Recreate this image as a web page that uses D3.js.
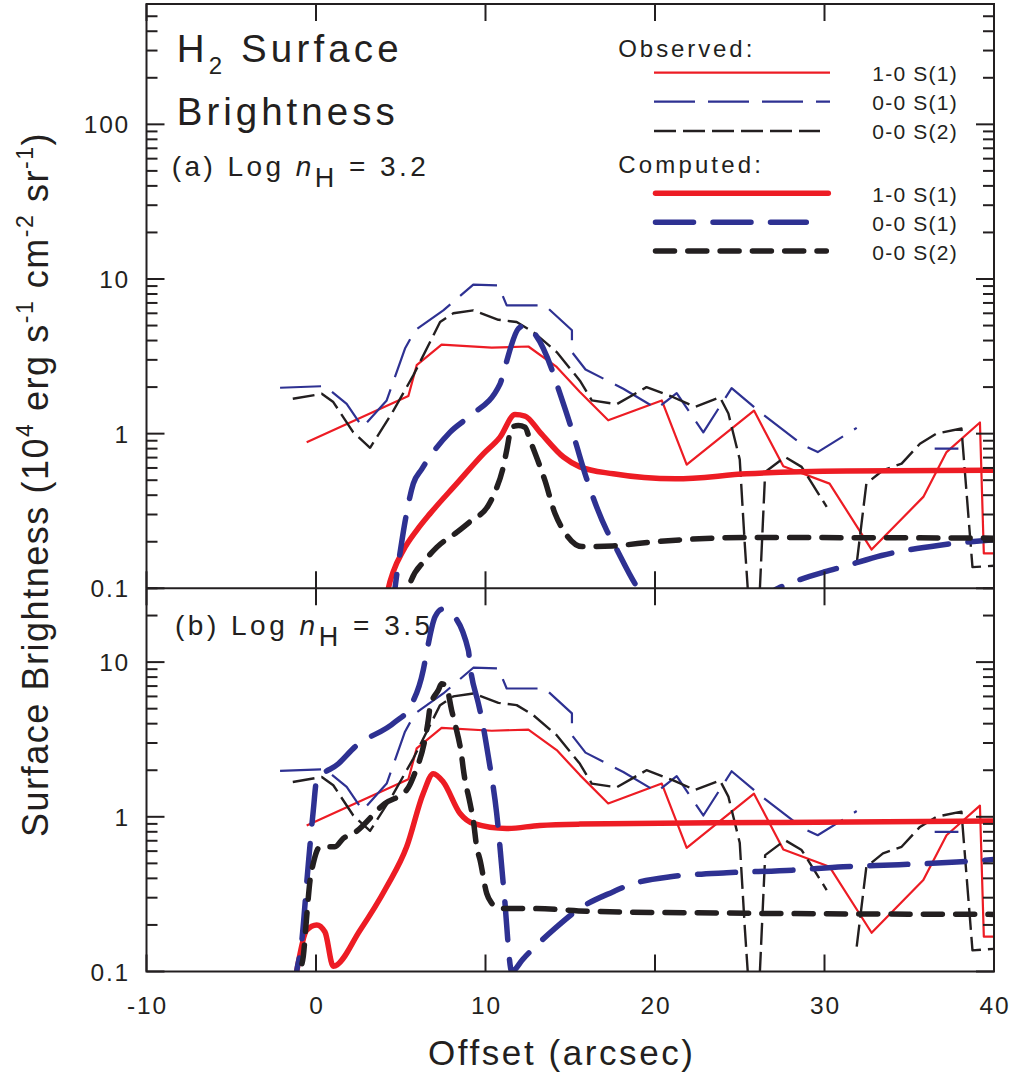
<!DOCTYPE html>
<html><head><meta charset="utf-8">
<script src="https://cdn.jsdelivr.net/npm/d3@7"></script>
<style>body{margin:0;background:#fff}svg{display:block}</style>
</head><body>
<svg id="c" width="1012" height="1076"></svg>
<script>
// ---------- DATA ----------
const xDomain = [-10, 40];
const xTickValues = [-10, 0, 10, 20, 30, 40];
const xTickLabels = ['-10', '0', '10', '20', '30', '40'];
const yDomainTop = [0.1, 600];
const yDomainBottom = [0.1, 30];
const yTickValuesTop = [0.1, 1, 10, 100];
const yTickLabelsTop = ['0.1', '1', '10', '100'];
const yTickValuesBottom = [0.1, 1, 10];
const yTickLabelsBottom = ['0.1', '1', '10'];
const legendObsLabels = ['1-0 S(1)', '0-0 S(1)', '0-0 S(2)'];
const legendCompLabels = ['1-0 S(1)', '0-0 S(1)', '0-0 S(2)'];

// Observed (same in both panels): [offset, brightness]
const obs_10S1 = [[-0.55,0.88],[5.45,1.75],[5.94,2.77],[7.41,3.76],[10.37,3.6],[12.53,3.66],[14.2,2.7],[15.57,1.86],[17.24,1.22],[20.4,1.64],[21.87,0.63],[25.84,1.41],[27.57,0.615],[30.3,0.475],[32.78,0.178],[35.83,0.39],[37.2,0.76],[39.17,1.18],[39.4,0.168],[40,0.168]];
const obs_00S1 = [[-2.12,1.98],[0.53,2.03],[1.81,1.56],[2.75,1.10],[4.17,1.64],[5.25,3.55],[5.84,4.65],[7.51,6.27],[9.28,9.2],[10.76,9.1],[11.25,6.75],[13.5,6.75],[15.1,4.66],[15.1,3.37],[15.9,2.6],[18.13,1.95],[20.1,1.45],[21.28,1.83],[22.85,1.02],[24.52,1.97],[26.3,1.35],[28.75,0.84],[29.6,0.76],[31.9,1.09],[34.0,null],[36.5,0.8],[37.9,0.8]];
const obs_00S2 = [[-1.37,1.68],[0.34,1.81],[1.02,1.6],[2.2,1.02],[3.19,0.81],[4.47,1.35],[5.74,2.38],[7.32,5.27],[8.1,6.0],[9.28,6.27],[10.76,5.45],[11.84,5.27],[12.82,4.54],[14.2,3.37],[15.57,2.2],[16.27,1.64],[17.74,1.55],[19.5,2.0],[21.08,1.72],[22.36,1.49],[23.83,1.72],[24.33,1.35],[25.0,0.68],[25.3,0.19],[25.9,0.02],[26.5,0.565],[27.67,0.706],[28.65,0.61],[30.13,0.336],[31.0,null],[31.9,0.145],[32.47,0.475],[33.45,0.58],[34.55,0.64],[35.63,0.86],[36.6,1.0],[38.08,1.08],[38.73,0.137],[40,0.14]];

// Computed, panel (a) log nH = 3.2
const compA_10S1 = [[4.05,0.07],[4.27,0.1],[4.56,0.128],[5.15,0.176],[5.94,0.237],[6.73,0.304],[8.3,0.475],[9.87,0.74],[10.86,0.95],[11.74,1.33],[12.33,1.3],[13.22,1.02],[14.6,0.706],[15.57,0.61],[17.54,0.55],[21.2,0.51],[25.4,0.55],[31.3,0.573],[40,0.58]];
const compA_00S1 = [[4.5,0.07],[4.66,0.1],[5.06,0.2],[5.25,0.268],[5.74,0.475],[6.24,0.59],[7.9,1.02],[8.99,1.28],[10.86,2.1],[11.15,2.7],[11.94,4.77],[12.3,5.0],[12.82,4.54],[13.9,2.63],[14.2,2.1],[14.98,1.16],[15.28,0.905],[15.97,0.51],[17.15,0.237],[17.54,0.197],[19.0,0.1],[21,0.065],[24,0.06],[27.27,0.1],[30.03,0.128],[31.11,0.138],[33.37,0.163],[36.8,0.19],[40,0.206]];
const compA_00S2 = [[5.2,0.07],[5.45,0.1],[6.53,0.156],[7.12,0.184],[8.3,0.23],[9.09,0.27],[10.17,0.344],[10.56,0.42],[11.05,0.61],[11.25,0.78],[11.55,1.1],[11.94,1.13],[12.33,1.1],[12.63,0.905],[13.12,0.655],[13.5,0.5],[14.1,0.304],[14.6,0.237],[15.7,0.186],[17.5,0.188],[20,0.2],[25.4,0.213],[40,0.211]];

// Computed, panel (b) log nH = 3.5
const compB_10S1 = [[-1.3,0.08],[-1.14,0.1],[-0.55,0.185],[0.04,0.2],[0.53,0.18],[1.02,0.108],[2.6,0.185],[4.17,0.353],[5.35,0.64],[6.33,1.42],[6.92,1.9],[7.51,1.68],[8.5,1.05],[9.28,0.906],[11.25,0.84],[13.2,0.88],[15.57,0.897],[27.4,0.92],[40,0.94]];
const compB_00S1 = [[-1.3,0.07],[-1.14,0.1],[-0.9,0.138],[-0.45,0.5],[-0.16,1.1],[0.04,1.72],[1.32,2.2],[2.3,2.83],[4.66,4.1],[5.55,5.13],[6.33,8.9],[6.53,11.6],[7.02,19.6],[7.45,22],[7.9,21],[8.99,11.9],[9.09,9.5],[9.58,5.4],[9.78,4.3],[10.17,2.44],[10.66,1.05],[11.1,0.32],[11.55,0.1],[12.2,0.12],[14.1,0.19],[15.57,0.256],[17.54,0.328],[18.5,0.363],[20.9,0.41],[21.87,0.42],[24.23,0.435],[28.1,0.452],[31.1,0.475],[34.4,0.49],[37.8,0.51],[40,0.53]];
const compB_00S2 = [[-1.1,0.07],[-0.94,0.1],[-0.75,0.125],[-0.55,0.226],[-0.35,0.39],[-0.16,0.5],[0.24,0.64],[1.12,0.64],[1.61,0.725],[2.2,0.78],[4.07,1.22],[5.35,1.49],[5.74,1.81],[6.62,4.2],[6.73,5.13],[7.22,6.6],[7.41,7.25],[7.7,6.9],[8.0,4.9],[8.2,4.0],[8.6,2.44],[8.7,2.0],[9.09,1.22],[9.28,0.95],[9.48,0.64],[9.68,0.525],[10.07,0.32],[10.37,0.276],[10.76,0.256],[13,0.255],[16.17,0.245],[25.4,0.238],[40,0.234]];

// ---------- STYLE ----------
const INK = '#231F20', RED = '#ED1C24', BLUE = '#2E3192';
const FONT = '"Liberation Sans", Arial, Helvetica, sans-serif';
const L = 146.5, R = 994, T = 4, MID = 588.3, B = 971.5;
const styles = {
  obsRed:   {stroke: RED,  w: 2.2, dash: null,        cap: 'butt'},
  obsBlue:  {stroke: BLUE, w: 2.2, dash: '41,13',     cap: 'butt'},
  obsBlack: {stroke: INK,  w: 2.4, dash: '22,7',      cap: 'butt'},
  compRed:  {stroke: RED,  w: 5.5, dash: null,        cap: 'round'},
  compBlue: {stroke: BLUE, w: 5.5, dash: '38,19.5',   cap: 'round'},
  compBlack:{stroke: INK,  w: 5.5, dash: '19,13.3',   cap: 'round'}
};

const svg = d3.select('#c');
const x = d3.scaleLinear().domain(xDomain).range([L, R]);
const yA = d3.scaleLog().domain(yDomainTop).range([MID, T]);
const yB = d3.scaleLog().domain(yDomainBottom).range([B, MID]);

function fit(t, target) {
  const n = t.text().length;
  const l = t.node().getComputedTextLength();
  t.attr('letter-spacing', ((target - l) / (n - 1)).toFixed(2));
}

function drawSeries(g, y, data, st) {
  const line = d3.line().defined(d => d[1] != null)
    .x(d => x(d[0])).y(d => y(d[1])).curve(st.curve || d3.curveLinear);
  const p = g.append('path').datum(data).attr('d', line)
    .attr('fill', 'none').attr('stroke', st.stroke).attr('stroke-width', st.w)
    .attr('stroke-linecap', st.cap).attr('stroke-linejoin', 'round');
  if (st.dash) p.attr('stroke-dasharray', st.dash);
}

function panel(id, y, top, bot, comp, tickVals, tickLabs) {
  svg.append('clipPath').attr('id', id).append('rect')
    .attr('x', L).attr('y', top).attr('width', R - L).attr('height', bot - top);
  const g = svg.append('g').attr('clip-path', `url(#${id})`);
  drawSeries(g, y, obs_10S1, styles.obsRed);
  drawSeries(g, y, obs_00S1, styles.obsBlue);
  drawSeries(g, y, obs_00S2, styles.obsBlack);
  const cm = d3.curveMonotoneX;
  drawSeries(g, y, comp[0], Object.assign({curve: cm}, styles.compRed));
  drawSeries(g, y, comp[1], Object.assign({curve: cm}, styles.compBlue));
  drawSeries(g, y, comp[2], Object.assign({curve: cm}, styles.compBlack));

  const dom = y.domain();
  const ax = svg.append('g').attr('stroke', INK).attr('stroke-width', 2);
  for (let k = Math.floor(Math.log10(dom[0])); k <= Math.ceil(Math.log10(dom[1])); k++) {
    for (let m = 1; m <= 9; m++) {
      const v = m * Math.pow(10, k);
      if (v < dom[0] * 0.999 || v > dom[1] * 1.001) continue;
      const len = m === 1 ? 18 : 11;
      const yy = y(v);
      ax.append('line').attr('x1', L).attr('x2', L + len).attr('y1', yy).attr('y2', yy);
      ax.append('line').attr('x1', R).attr('x2', R - len).attr('y1', yy).attr('y2', yy);
    }
  }
  xTickValues.forEach(v => {
    ax.append('line').attr('x1', x(v)).attr('x2', x(v)).attr('y1', top).attr('y2', top + 17);
    ax.append('line').attr('x1', x(v)).attr('x2', x(v)).attr('y1', bot).attr('y2', bot - 17);
  });
  tickVals.forEach((v, i) => {
    svg.append('text').attr('x', 130).attr('y', y(v) + 9).attr('text-anchor', 'end')
      .attr('font-family', FONT).attr('font-size', 24.5).attr('letter-spacing', 1.8)
      .attr('fill', INK).text(tickLabs[i]);
  });
}

panel('clipA', yA, T, MID, [compA_10S1, compA_00S1, compA_00S2], yTickValuesTop, yTickLabelsTop);
panel('clipB', yB, MID, B, [compB_10S1, compB_00S1, compB_00S2], yTickValuesBottom, yTickLabelsBottom);

const fr = svg.append('g').attr('stroke', INK).attr('stroke-width', 2).attr('fill', 'none');
fr.append('rect').attr('x', L).attr('y', T).attr('width', R - L).attr('height', B - T);
fr.append('line').attr('x1', L).attr('x2', R).attr('y1', MID).attr('y2', MID);

xTickValues.forEach((v, i) => {
  svg.append('text').attr('x', x(v) + 1).attr('y', 1013.5).attr('text-anchor', 'middle')
    .attr('font-family', FONT).attr('font-size', 24.5).attr('letter-spacing', 1.8)
    .attr('fill', INK).text(xTickLabels[i]);
});

const xt = svg.append('text').attr('x', 428).attr('y', 1064.5)
  .attr('font-family', FONT).attr('font-size', 35).attr('fill', INK).text('Offset (arcsec)');
fit(xt, 265);

const yt = svg.append('text').attr('transform', 'translate(48.3,837) rotate(-90)')
  .attr('font-family', FONT).attr('font-size', 36).attr('fill', INK);
yt.append('tspan').text('Surface Brightness  (10');
yt.append('tspan').attr('dy', -15).attr('font-size', 23).text('4');
yt.append('tspan').attr('dy', 15).text(' erg s');
yt.append('tspan').attr('dy', -15).attr('font-size', 23).text('-1');
yt.append('tspan').attr('dy', 15).text(' cm');
yt.append('tspan').attr('dy', -15).attr('font-size', 23).text('-2');
yt.append('tspan').attr('dy', 15).text(' sr');
yt.append('tspan').attr('dy', -15).attr('font-size', 23).text('-1');
yt.append('tspan').attr('dy', 15).text(')');
fit(yt, 705);

const t1 = svg.append('text').attr('x', 176.7).attr('y', 61.7)
  .attr('font-family', FONT).attr('font-size', 38.5).attr('fill', INK);
t1.append('tspan').text('H');
t1.append('tspan').attr('dy', 12).attr('font-size', 24).text('2');
t1.append('tspan').attr('dy', -12).text(' Surface');
fit(t1, 222);
const t2 = svg.append('text').attr('x', 176.7).attr('y', 125)
  .attr('font-family', FONT).attr('font-size', 38.5).attr('fill', INK).text('Brightness');
fit(t2, 218);

function nhLabel(xx, yy, tag, val, w) {
  const t = svg.append('text').attr('x', xx).attr('y', yy)
    .attr('font-family', FONT).attr('font-size', 28).attr('fill', INK);
  t.append('tspan').text(tag + ' Log ');
  t.append('tspan').attr('font-style', 'italic').text('n');
  t.append('tspan').attr('dy', 11).attr('font-size', 27).text('H');
  t.append('tspan').attr('dy', -11).text(' = ' + val);
  fit(t, w);
}
nhLabel(171.7, 176, '(a)', '3.2', 254);
nhLabel(175, 635, '(b)', '3.5', 255);

const lg = svg.append('g');
const h1 = lg.append('text').attr('x', 618.3).attr('y', 57.3).attr('font-family', FONT)
  .attr('font-size', 24).attr('fill', INK).text('Observed:');
fit(h1, 134);
const h2 = lg.append('text').attr('x', 618.3).attr('y', 173.3).attr('font-family', FONT)
  .attr('font-size', 24).attr('fill', INK).text('Computed:');
fit(h2, 142.5);
const rows = [
  {y: 72.7, st: styles.obsRed, x2: 830, lab: legendObsLabels[0], ty: 81},
  {y: 101.7, st: styles.obsBlue, x2: 830, lab: legendObsLabels[1], ty: 110},
  {y: 131, st: styles.obsBlack, x2: 820, lab: legendObsLabels[2], ty: 139.3},
  {y: 193.3, st: styles.compRed, x2: 831, lab: legendCompLabels[0], ty: 201.7},
  {y: 222.3, st: styles.compBlue, x2: 809, lab: legendCompLabels[1], ty: 230.7},
  {y: 251, st: styles.compBlack, x2: 829, lab: legendCompLabels[2], ty: 260}
];
rows.forEach(r => {
  const round = r.st.cap === 'round';
  const ln = lg.append('line').attr('x1', round ? 655.5 : 654).attr('x2', round ? r.x2 - 2.7 : r.x2)
    .attr('y1', r.y).attr('y2', r.y).attr('stroke', r.st.stroke).attr('stroke-width', r.st.w)
    .attr('stroke-linecap', r.st.cap);
  if (r.st.dash) ln.attr('stroke-dasharray', r.st.dash);
  const t = lg.append('text').attr('x', 872.3).attr('y', r.ty).attr('font-family', FONT)
    .attr('font-size', 21).attr('fill', INK).text(r.lab);
  fit(t, 84.4);
});
</script>
</body></html>
